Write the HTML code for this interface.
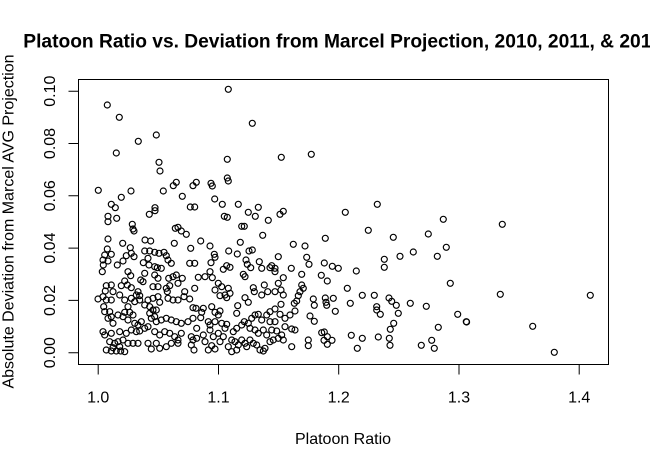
<!DOCTYPE html>
<html><head><meta charset="utf-8"><style>
html,body{margin:0;padding:0;background:#fff;}
svg{display:block;}
text{font-family:"Liberation Sans",Arial,sans-serif;fill:#000;}
</style></head><body>
<svg width="650" height="462" viewBox="0 0 650 462" xmlns="http://www.w3.org/2000/svg">
<rect width="650" height="462" fill="#fff"/>
<text x="23.3" y="47.3" font-size="19.2" font-weight="bold">Platoon Ratio vs. Deviation from Marcel Projection, 2010, 2011, &amp; 2012</text>
<rect x="78.5" y="79.5" width="530" height="285" fill="none" stroke="#000" stroke-width="1"/>
<g stroke="#000" stroke-width="1" fill="none">
<path d="M98.2 364.5V374.5M218.5 364.5V374.5M338.7 364.5V374.5M459 364.5V374.5M579.2 364.5V374.5M98.2 364.5H579.2"/>
<path d="M78.5 352.7H68.5M78.5 300.4H68.5M78.5 248.1H68.5M78.5 195.8H68.5M78.5 143.5H68.5M78.5 91.2H68.5M78.5 91.2V352.7"/>
</g>
<g font-size="16" text-anchor="middle">
<text x="98.2" y="402.5">1.0</text>
<text x="218.5" y="402.5">1.1</text>
<text x="338.7" y="402.5">1.2</text>
<text x="459" y="402.5">1.3</text>
<text x="579.2" y="402.5">1.4</text>
<text x="343" y="444">Platoon Ratio</text>
<text transform="translate(55 352.7) rotate(-90)">0.00</text>
<text transform="translate(55 300.4) rotate(-90)">0.02</text>
<text transform="translate(55 248.1) rotate(-90)">0.04</text>
<text transform="translate(55 195.8) rotate(-90)">0.06</text>
<text transform="translate(55 143.5) rotate(-90)">0.08</text>
<text transform="translate(55 91.2) rotate(-90)">0.10</text>
<text transform="translate(13.3 221.5) rotate(-90)">Absolute Deviation from Marcel AVG Projection</text>
</g>
<g fill="none" stroke="#000" stroke-width="1.15">
<circle cx="107.3" cy="105" r="3"/><circle cx="119.3" cy="117.3" r="3"/><circle cx="156.3" cy="135" r="3"/><circle cx="138.3" cy="141.3" r="3"/><circle cx="116.3" cy="153" r="3"/><circle cx="159" cy="162.3" r="3"/><circle cx="160" cy="171" r="3"/><circle cx="98.3" cy="190.3" r="3"/><circle cx="131" cy="191" r="3"/><circle cx="121.3" cy="197.3" r="3"/><circle cx="163.3" cy="191" r="3"/><circle cx="173.3" cy="185.7" r="3"/><circle cx="176.3" cy="182.3" r="3"/><circle cx="182.3" cy="196.3" r="3"/><circle cx="193" cy="185.7" r="3"/><circle cx="196.3" cy="182.3" r="3"/><circle cx="111.3" cy="204.3" r="3"/><circle cx="115.3" cy="207.7" r="3"/><circle cx="155" cy="207.7" r="3"/><circle cx="155" cy="210.7" r="3"/><circle cx="149.3" cy="214.3" r="3"/><circle cx="190.3" cy="207" r="3"/><circle cx="194.7" cy="207" r="3"/><circle cx="108" cy="216.3" r="3"/><circle cx="108" cy="221.7" r="3"/><circle cx="116.7" cy="218.3" r="3"/><circle cx="132.3" cy="224.3" r="3"/><circle cx="178" cy="227.3" r="3"/>
<circle cx="108" cy="239" r="3"/><circle cx="122.7" cy="243.3" r="3"/><circle cx="130.3" cy="247.7" r="3"/><circle cx="145" cy="240" r="3"/><circle cx="150.7" cy="241" r="3"/><circle cx="174.3" cy="243.3" r="3"/><circle cx="175.3" cy="228.3" r="3"/><circle cx="181.3" cy="231" r="3"/><circle cx="186.3" cy="234.3" r="3"/><circle cx="133" cy="229" r="3"/><circle cx="134" cy="231" r="3"/><circle cx="190.7" cy="248.3" r="3"/><circle cx="107.3" cy="249" r="3"/><circle cx="104.7" cy="255" r="3"/><circle cx="111.3" cy="254.3" r="3"/><circle cx="103" cy="260" r="3"/><circle cx="108" cy="261" r="3"/><circle cx="103.3" cy="265" r="3"/><circle cx="102.3" cy="271.7" r="3"/><circle cx="117.3" cy="265" r="3"/><circle cx="123" cy="261" r="3"/><circle cx="126.3" cy="255.7" r="3"/><circle cx="131.3" cy="253.3" r="3"/><circle cx="134" cy="256.7" r="3"/><circle cx="144.7" cy="251" r="3"/><circle cx="149.7" cy="251" r="3"/><circle cx="154.7" cy="252.3" r="3"/><circle cx="159" cy="253.3" r="3"/><circle cx="164" cy="252.3" r="3"/><circle cx="166.3" cy="255.7" r="3"/><circle cx="168" cy="260" r="3"/><circle cx="171.3" cy="263.3" r="3"/><circle cx="148" cy="258.3" r="3"/><circle cx="143.3" cy="262.7" r="3"/><circle cx="149" cy="265" r="3"/><circle cx="154.7" cy="266.7" r="3"/><circle cx="157.3" cy="267.7" r="3"/><circle cx="161.3" cy="268.3" r="3"/><circle cx="189.7" cy="263.3" r="3"/><circle cx="194.7" cy="263.3" r="3"/><circle cx="128" cy="271.7" r="3"/><circle cx="130.7" cy="275.7" r="3"/><circle cx="124.7" cy="281" r="3"/><circle cx="121.3" cy="285.7" r="3"/><circle cx="127.3" cy="285" r="3"/><circle cx="131.3" cy="287.7" r="3"/><circle cx="138" cy="291.7" r="3"/><circle cx="139.7" cy="295.7" r="3"/><circle cx="144.7" cy="273.3" r="3"/><circle cx="143" cy="281.7" r="3"/><circle cx="140.7" cy="280" r="3"/><circle cx="154.7" cy="275" r="3"/><circle cx="158" cy="278.3" r="3"/><circle cx="168.7" cy="278.3" r="3"/><circle cx="173" cy="276.7" r="3"/><circle cx="176.3" cy="275" r="3"/><circle cx="182.3" cy="278.3" r="3"/><circle cx="178" cy="283.3" r="3"/><circle cx="106.3" cy="285.7" r="3"/><circle cx="111.3" cy="285" r="3"/><circle cx="105.3" cy="291" r="3"/><circle cx="113" cy="291.7" r="3"/><circle cx="119.7" cy="295" r="3"/><circle cx="153" cy="286.7" r="3"/><circle cx="158" cy="286.7" r="3"/><circle cx="166.3" cy="288.3" r="3"/><circle cx="167.3" cy="291.7" r="3"/><circle cx="169.7" cy="285.7" r="3"/><circle cx="184.7" cy="291.7" r="3"/><circle cx="184" cy="296.7" r="3"/><circle cx="194.7" cy="288.3" r="3"/><circle cx="98" cy="299" r="3"/><circle cx="103" cy="296.7" r="3"/><circle cx="106.3" cy="300" r="3"/><circle cx="103.7" cy="306.7" r="3"/><circle cx="111.3" cy="300" r="3"/><circle cx="124.7" cy="300" r="3"/><circle cx="131.3" cy="298.3" r="3"/><circle cx="134.7" cy="301.7" r="3"/><circle cx="128" cy="306.7" r="3"/><circle cx="136.3" cy="295" r="3"/><circle cx="139.7" cy="300" r="3"/><circle cx="148" cy="300" r="3"/><circle cx="153" cy="298.3" r="3"/><circle cx="158" cy="296.7" r="3"/><circle cx="159.7" cy="302.3" r="3"/><circle cx="144.7" cy="305" r="3"/><circle cx="149.7" cy="306.7" r="3"/><circle cx="153" cy="310" r="3"/><circle cx="156.3" cy="310" r="3"/><circle cx="168" cy="298.3" r="3"/><circle cx="173" cy="300" r="3"/><circle cx="178" cy="300" r="3"/><circle cx="189.7" cy="299" r="3"/><circle cx="193" cy="307.7" r="3"/><circle cx="104.7" cy="311.7" r="3"/><circle cx="109.7" cy="311.7" r="3"/><circle cx="108" cy="318.3" r="3"/><circle cx="111.3" cy="316.7" r="3"/><circle cx="113" cy="323.3" r="3"/><circle cx="118" cy="315" r="3"/><circle cx="123" cy="316.7" r="3"/><circle cx="124.7" cy="312.3" r="3"/><circle cx="129.7" cy="312.3" r="3"/><circle cx="128" cy="320" r="3"/><circle cx="133" cy="315" r="3"/><circle cx="134.7" cy="323.3" r="3"/><circle cx="138" cy="325" r="3"/><circle cx="141.3" cy="321.7" r="3"/><circle cx="149.7" cy="313.3" r="3"/><circle cx="151.3" cy="318.3" r="3"/><circle cx="154.7" cy="316.7" r="3"/><circle cx="156.3" cy="321.7" r="3"/><circle cx="161.3" cy="320" r="3"/><circle cx="166.3" cy="318.3" r="3"/><circle cx="171.3" cy="320" r="3"/><circle cx="176.3" cy="321.7" r="3"/><circle cx="181.3" cy="323.3" r="3"/><circle cx="188" cy="321.7" r="3"/><circle cx="193" cy="318.3" r="3"/><circle cx="103" cy="331.7" r="3"/><circle cx="104.7" cy="335" r="3"/><circle cx="111.3" cy="333.3" r="3"/><circle cx="119.7" cy="331.7" r="3"/><circle cx="126.3" cy="333.3" r="3"/><circle cx="131.3" cy="330" r="3"/><circle cx="136.3" cy="331.7" r="3"/><circle cx="139.7" cy="331" r="3"/><circle cx="144.7" cy="328.3" r="3"/><circle cx="148" cy="326.7" r="3"/><circle cx="154.7" cy="331.7" r="3"/><circle cx="159.7" cy="335" r="3"/><circle cx="164.7" cy="331.7" r="3"/><circle cx="169.7" cy="333.3" r="3"/><circle cx="174.7" cy="336.7" r="3"/><circle cx="178" cy="340" r="3"/><circle cx="191.3" cy="336.7" r="3"/><circle cx="193" cy="340" r="3"/><circle cx="181.3" cy="333.3" r="3"/><circle cx="109.7" cy="341.7" r="3"/><circle cx="114.7" cy="343.3" r="3"/><circle cx="118" cy="341.7" r="3"/><circle cx="123" cy="340" r="3"/><circle cx="128" cy="343.3" r="3"/><circle cx="133" cy="343.3" r="3"/><circle cx="138" cy="343.3" r="3"/><circle cx="106.3" cy="350" r="3"/><circle cx="111.3" cy="351" r="3"/><circle cx="116.3" cy="351" r="3"/><circle cx="120.7" cy="351" r="3"/><circle cx="124.7" cy="351.7" r="3"/><circle cx="113" cy="347.7" r="3"/><circle cx="119.7" cy="346.7" r="3"/><circle cx="148" cy="343.3" r="3"/><circle cx="151.3" cy="349" r="3"/><circle cx="156.3" cy="343.3" r="3"/><circle cx="159.7" cy="348.3" r="3"/><circle cx="166.3" cy="346.7" r="3"/><circle cx="171.3" cy="343.3" r="3"/><circle cx="178" cy="343.3" r="3"/><circle cx="191.3" cy="345" r="3"/><circle cx="194" cy="350" r="3"/>
<circle cx="228.3" cy="89.3" r="3"/><circle cx="252.3" cy="123.3" r="3"/><circle cx="227.3" cy="159.3" r="3"/><circle cx="281.3" cy="157.3" r="3"/><circle cx="311.3" cy="154.3" r="3"/><circle cx="211" cy="183.3" r="3"/><circle cx="212.3" cy="186" r="3"/><circle cx="227.3" cy="178" r="3"/><circle cx="228.3" cy="181" r="3"/><circle cx="214.7" cy="199" r="3"/><circle cx="222.3" cy="204.3" r="3"/><circle cx="238.3" cy="204.3" r="3"/><circle cx="258.3" cy="207.3" r="3"/><circle cx="248.3" cy="212.3" r="3"/><circle cx="224.3" cy="216.3" r="3"/><circle cx="227.3" cy="217.3" r="3"/><circle cx="255.3" cy="216.3" r="3"/><circle cx="268.3" cy="220.3" r="3"/><circle cx="280" cy="214.3" r="3"/><circle cx="283.3" cy="211.3" r="3"/><circle cx="241.7" cy="226.3" r="3"/><circle cx="244.3" cy="226.3" r="3"/>
<circle cx="200.7" cy="241" r="3"/><circle cx="210" cy="246" r="3"/><circle cx="240.3" cy="242.3" r="3"/><circle cx="262.7" cy="235.3" r="3"/><circle cx="293.3" cy="244.3" r="3"/><circle cx="305" cy="246" r="3"/><circle cx="228.7" cy="251" r="3"/><circle cx="237.3" cy="254" r="3"/><circle cx="249" cy="251" r="3"/><circle cx="252.3" cy="250" r="3"/><circle cx="214.3" cy="254.3" r="3"/><circle cx="215" cy="257.3" r="3"/><circle cx="278.3" cy="256.7" r="3"/><circle cx="306.7" cy="257.3" r="3"/><circle cx="211" cy="262.7" r="3"/><circle cx="246" cy="260" r="3"/><circle cx="247.3" cy="264.3" r="3"/><circle cx="250.7" cy="267.7" r="3"/><circle cx="259.3" cy="261.7" r="3"/><circle cx="261.7" cy="268.3" r="3"/><circle cx="271.7" cy="265.7" r="3"/><circle cx="275" cy="268.3" r="3"/><circle cx="275" cy="271.7" r="3"/><circle cx="270" cy="267.7" r="3"/><circle cx="291.3" cy="268.3" r="3"/><circle cx="309" cy="264.3" r="3"/><circle cx="226.7" cy="265.7" r="3"/><circle cx="230" cy="267.3" r="3"/><circle cx="223.3" cy="269.3" r="3"/><circle cx="210" cy="271.7" r="3"/><circle cx="205" cy="276.7" r="3"/><circle cx="198.3" cy="277.3" r="3"/><circle cx="212.3" cy="277.7" r="3"/><circle cx="243.3" cy="274.3" r="3"/><circle cx="245" cy="276.7" r="3"/><circle cx="283.3" cy="277.7" r="3"/><circle cx="278.3" cy="283.3" r="3"/><circle cx="301.7" cy="274.3" r="3"/><circle cx="218.3" cy="283.3" r="3"/><circle cx="221.7" cy="286.7" r="3"/><circle cx="215" cy="290" r="3"/><circle cx="228.3" cy="288.3" r="3"/><circle cx="230" cy="293.3" r="3"/><circle cx="225" cy="295" r="3"/><circle cx="220" cy="295.7" r="3"/><circle cx="226.7" cy="297.7" r="3"/><circle cx="253.3" cy="287.7" r="3"/><circle cx="254.3" cy="291.7" r="3"/><circle cx="264.3" cy="285" r="3"/><circle cx="261.7" cy="295" r="3"/><circle cx="267.7" cy="291.7" r="3"/><circle cx="275" cy="291.7" r="3"/><circle cx="281" cy="290" r="3"/><circle cx="283.3" cy="295" r="3"/><circle cx="281" cy="304.3" r="3"/><circle cx="301.7" cy="285" r="3"/><circle cx="300" cy="291.7" r="3"/><circle cx="298.3" cy="295.7" r="3"/><circle cx="296.7" cy="301" r="3"/><circle cx="294.3" cy="303.3" r="3"/><circle cx="303.3" cy="288.3" r="3"/><circle cx="245" cy="297.7" r="3"/><circle cx="248.3" cy="302.3" r="3"/><circle cx="237.7" cy="305.7" r="3"/><circle cx="236.7" cy="313.3" r="3"/><circle cx="196" cy="308.3" r="3"/><circle cx="203.3" cy="308.3" r="3"/><circle cx="201.7" cy="312.3" r="3"/><circle cx="211.7" cy="306.7" r="3"/><circle cx="215" cy="312.3" r="3"/><circle cx="218.3" cy="315" r="3"/><circle cx="220" cy="311" r="3"/><circle cx="200.7" cy="317.7" r="3"/><circle cx="208.3" cy="321.7" r="3"/><circle cx="210" cy="325" r="3"/><circle cx="215" cy="321.7" r="3"/><circle cx="221.7" cy="323.3" r="3"/><circle cx="226.7" cy="324.3" r="3"/><circle cx="225" cy="328.3" r="3"/><circle cx="210" cy="330" r="3"/><circle cx="196.7" cy="328.3" r="3"/><circle cx="203.3" cy="335" r="3"/><circle cx="196.7" cy="338.3" r="3"/><circle cx="205" cy="341.7" r="3"/><circle cx="213.3" cy="336.7" r="3"/><circle cx="218.3" cy="333.3" r="3"/><circle cx="223.3" cy="336.7" r="3"/><circle cx="220" cy="341.7" r="3"/><circle cx="211.7" cy="345.7" r="3"/><circle cx="215" cy="349" r="3"/><circle cx="208.3" cy="350" r="3"/><circle cx="233.3" cy="331.7" r="3"/><circle cx="236.7" cy="328.3" r="3"/><circle cx="241.7" cy="325" r="3"/><circle cx="244.3" cy="321.7" r="3"/><circle cx="248.3" cy="323.3" r="3"/><circle cx="255" cy="315" r="3"/><circle cx="258.3" cy="314.3" r="3"/><circle cx="251.7" cy="318.3" r="3"/><circle cx="261.7" cy="320" r="3"/><circle cx="266.7" cy="315" r="3"/><circle cx="270" cy="311.7" r="3"/><circle cx="275" cy="309" r="3"/><circle cx="280" cy="314.3" r="3"/><circle cx="285" cy="318.3" r="3"/><circle cx="290" cy="315" r="3"/><circle cx="295" cy="311" r="3"/><circle cx="270" cy="321.7" r="3"/><circle cx="275" cy="321.7" r="3"/><circle cx="250" cy="328.3" r="3"/><circle cx="255" cy="330" r="3"/><circle cx="258.3" cy="333.3" r="3"/><circle cx="263.3" cy="330" r="3"/><circle cx="266.7" cy="335" r="3"/><circle cx="271.7" cy="330" r="3"/><circle cx="276.7" cy="331" r="3"/><circle cx="281.7" cy="335" r="3"/><circle cx="285" cy="326.7" r="3"/><circle cx="291.7" cy="329" r="3"/><circle cx="295" cy="330" r="3"/><circle cx="231.7" cy="340" r="3"/><circle cx="235" cy="341.7" r="3"/><circle cx="238.3" cy="345" r="3"/><circle cx="228.3" cy="346.7" r="3"/><circle cx="231.7" cy="351.7" r="3"/><circle cx="236.7" cy="350" r="3"/><circle cx="241.7" cy="340" r="3"/><circle cx="245" cy="343.3" r="3"/><circle cx="246.7" cy="346.7" r="3"/><circle cx="250" cy="340" r="3"/><circle cx="253.3" cy="343.3" r="3"/><circle cx="256.7" cy="345" r="3"/><circle cx="260" cy="350" r="3"/><circle cx="263.3" cy="351" r="3"/><circle cx="265" cy="348.3" r="3"/><circle cx="270" cy="341.7" r="3"/><circle cx="273.3" cy="340" r="3"/><circle cx="278.3" cy="338.3" r="3"/><circle cx="283.3" cy="340" r="3"/><circle cx="291.7" cy="346.7" r="3"/><circle cx="308.3" cy="340" r="3"/><circle cx="308.3" cy="345.7" r="3"/>
<circle cx="377.3" cy="204.3" r="3"/><circle cx="345.3" cy="212.3" r="3"/><circle cx="368.3" cy="230.3" r="3"/><circle cx="325.3" cy="238.3" r="3"/><circle cx="393.3" cy="237.3" r="3"/><circle cx="428.3" cy="234" r="3"/><circle cx="443.3" cy="219.3" r="3"/><circle cx="446.3" cy="247.3" r="3"/><circle cx="413.3" cy="252" r="3"/><circle cx="400" cy="256.3" r="3"/><circle cx="437.3" cy="256.3" r="3"/><circle cx="384.3" cy="259.3" r="3"/><circle cx="384.3" cy="267.3" r="3"/><circle cx="324.3" cy="263" r="3"/><circle cx="332.3" cy="266.3" r="3"/><circle cx="338.3" cy="268.3" r="3"/><circle cx="356.3" cy="271" r="3"/><circle cx="321.3" cy="275.3" r="3"/><circle cx="327.3" cy="281" r="3"/><circle cx="347.3" cy="288.3" r="3"/><circle cx="450.3" cy="283.3" r="3"/><circle cx="313.3" cy="299" r="3"/><circle cx="314.3" cy="305.3" r="3"/><circle cx="325.3" cy="298" r="3"/><circle cx="326" cy="302.3" r="3"/><circle cx="326.7" cy="305.3" r="3"/><circle cx="333.3" cy="298.3" r="3"/><circle cx="335.3" cy="311.3" r="3"/><circle cx="350.3" cy="303.3" r="3"/><circle cx="362.3" cy="295.3" r="3"/><circle cx="374.3" cy="295.3" r="3"/><circle cx="376.7" cy="306.7" r="3"/><circle cx="376.7" cy="310" r="3"/><circle cx="380.3" cy="314.3" r="3"/><circle cx="389" cy="298" r="3"/><circle cx="391.7" cy="301.3" r="3"/><circle cx="396.3" cy="305.3" r="3"/><circle cx="398.3" cy="313.3" r="3"/><circle cx="410.3" cy="303.3" r="3"/><circle cx="426.3" cy="306.3" r="3"/><circle cx="457.7" cy="314.3" r="3"/><circle cx="310" cy="316" r="3"/><circle cx="314.3" cy="321.3" r="3"/><circle cx="393.7" cy="323.3" r="3"/><circle cx="390.3" cy="329.3" r="3"/><circle cx="438.3" cy="327.3" r="3"/><circle cx="321.7" cy="332.7" r="3"/><circle cx="324.3" cy="332" r="3"/><circle cx="327.3" cy="336.7" r="3"/><circle cx="324" cy="340.3" r="3"/><circle cx="327.3" cy="344.3" r="3"/><circle cx="332" cy="340.3" r="3"/><circle cx="351.3" cy="335.3" r="3"/><circle cx="362.3" cy="338.3" r="3"/><circle cx="378.3" cy="337" r="3"/><circle cx="389.3" cy="338.3" r="3"/><circle cx="390" cy="345.3" r="3"/><circle cx="357.3" cy="348.3" r="3"/><circle cx="421.3" cy="345.3" r="3"/><circle cx="431.7" cy="340.3" r="3"/><circle cx="434.3" cy="348.3" r="3"/>
<circle cx="502.3" cy="224.3" r="3"/><circle cx="500.3" cy="294.3" r="3"/><circle cx="590.3" cy="295.3" r="3"/><circle cx="466.3" cy="321.7" r="3"/><circle cx="466.6" cy="322" r="3"/><circle cx="532.7" cy="326.3" r="3"/><circle cx="554.3" cy="352.3" r="3"/>
</g>
</svg>
</body></html>
